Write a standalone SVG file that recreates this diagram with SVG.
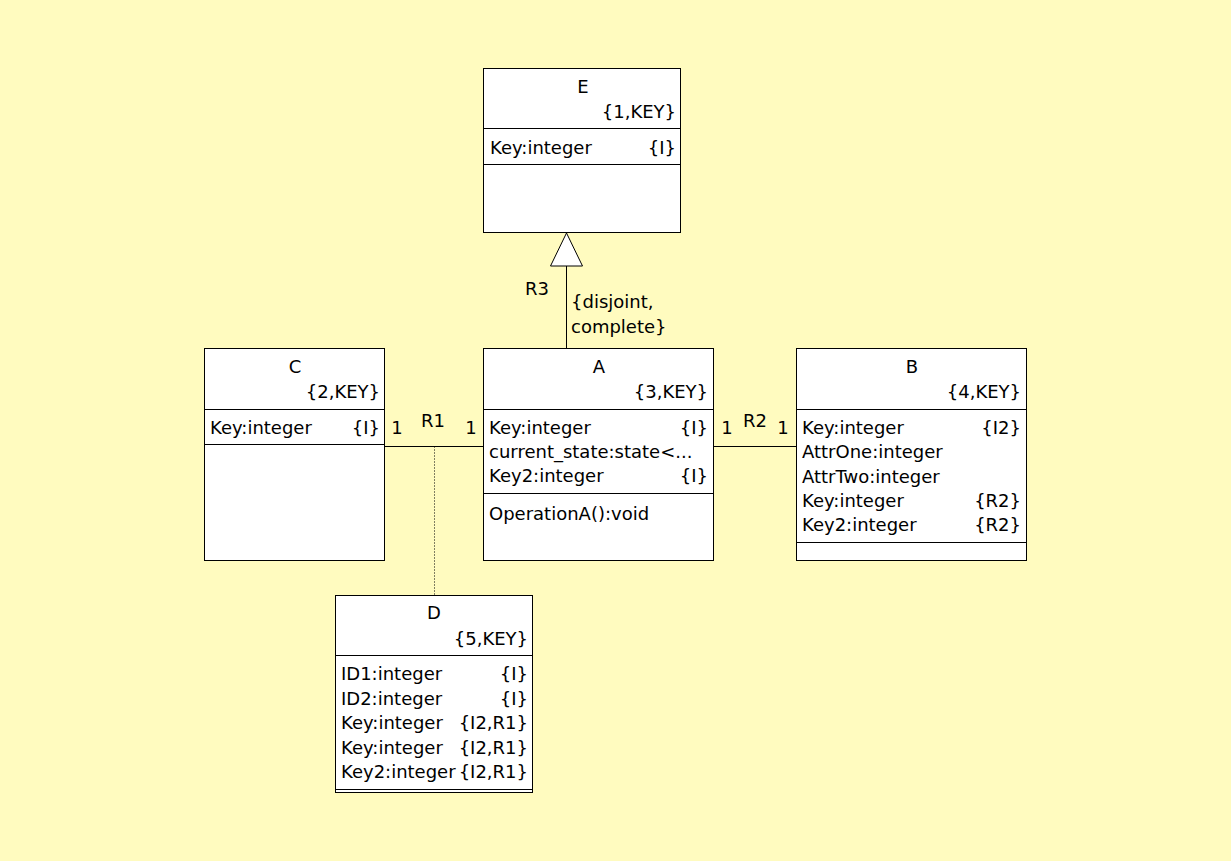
<svg xmlns="http://www.w3.org/2000/svg" width="1231" height="861" viewBox="0 0 1231 861">
<style>
text{font-family:"DejaVu Sans","Liberation Sans",sans-serif;font-size:18px;fill:#000}
.box{fill:#fff;stroke:#000;stroke-width:1}
.ln{stroke:#000;stroke-width:1;fill:none}
.m{text-anchor:middle}
.r{text-anchor:end}
</style>
<rect width="1231" height="861" fill="#FFFBBF"/>
<g id="connectors">
<line class="ln" x1="566.5" y1="266" x2="566.5" y2="348"/>
<polygon points="566.5,233 550.5,266 582.5,266" fill="#fff" stroke="#000"/>
<text x="537" y="295" class="m">R3</text>
<text x="571" y="308">{disjoint,</text>
<text x="571" y="333">complete}</text>
<line class="ln" x1="384" y1="446.5" x2="484" y2="446.5"/>
<line class="ln" x1="434.5" y1="446.5" x2="434.5" y2="595" stroke-dasharray="1,2"/>
<text x="397" y="434" class="m">1</text>
<text x="433" y="427" class="m">R1</text>
<text x="471" y="434" class="m">1</text>
<line class="ln" x1="713" y1="446.5" x2="797" y2="446.5"/>
<text x="727" y="434" class="m">1</text>
<text x="755" y="427" class="m">R2</text>
<text x="783" y="434" class="m">1</text>
</g>
<g id="E">
<rect class="box" x="483.5" y="68.5" width="197" height="164"/>
<line class="ln" x1="483.5" y1="128.5" x2="680.5" y2="128.5"/>
<line class="ln" x1="483.5" y1="164.5" x2="680.5" y2="164.5"/>
<text x="583" y="93" class="m">E</text>
<text x="676" y="118" class="r">{1,KEY}</text>
<text x="490" y="154">Key:integer</text>
<text x="676" y="154" class="r">{I}</text>
</g>
<g id="C">
<rect class="box" x="204.5" y="348.5" width="180" height="212"/>
<line class="ln" x1="204.5" y1="409.5" x2="384.5" y2="409.5"/>
<line class="ln" x1="204.5" y1="444.5" x2="384.5" y2="444.5"/>
<text x="295" y="373" class="m">C</text>
<text x="380" y="398" class="r">{2,KEY}</text>
<text x="210" y="434">Key:integer</text>
<text x="380" y="434" class="r">{I}</text>
</g>
<g id="A">
<rect class="box" x="483.5" y="348.5" width="230" height="212"/>
<line class="ln" x1="483.5" y1="409.5" x2="713.5" y2="409.5"/>
<line class="ln" x1="483.5" y1="493.5" x2="713.5" y2="493.5"/>
<text x="599" y="373" class="m">A</text>
<text x="708" y="398" class="r">{3,KEY}</text>
<text x="489" y="434">Key:integer</text>
<text x="708" y="434" class="r">{I}</text>
<text x="489" y="458">current_state:state&lt;...</text>
<text x="489" y="482">Key2:integer</text>
<text x="708" y="482" class="r">{I}</text>
<text x="489" y="520">OperationA():void</text>
</g>
<g id="B">
<rect class="box" x="796.5" y="348.5" width="230" height="212"/>
<line class="ln" x1="796.5" y1="409.5" x2="1026.5" y2="409.5"/>
<line class="ln" x1="796.5" y1="542.5" x2="1026.5" y2="542.5"/>
<text x="912" y="373" class="m">B</text>
<text x="1021" y="398" class="r">{4,KEY}</text>
<text x="802" y="434">Key:integer</text>
<text x="1021" y="434" class="r">{I2}</text>
<text x="802" y="458">AttrOne:integer</text>
<text x="802" y="483">AttrTwo:integer</text>
<text x="802" y="507">Key:integer</text>
<text x="1021" y="507" class="r">{R2}</text>
<text x="802" y="531">Key2:integer</text>
<text x="1021" y="531" class="r">{R2}</text>
</g>
<g id="D">
<rect class="box" x="335.5" y="595.5" width="197" height="197"/>
<line class="ln" x1="335.5" y1="655.5" x2="532.5" y2="655.5"/>
<line class="ln" x1="335.5" y1="789.5" x2="532.5" y2="789.5"/>
<text x="434" y="619" class="m">D</text>
<text x="528" y="645" class="r">{5,KEY}</text>
<text x="341" y="680">ID1:integer</text>
<text x="528" y="680" class="r">{I}</text>
<text x="341" y="705">ID2:integer</text>
<text x="528" y="705" class="r">{I}</text>
<text x="341" y="729">Key:integer</text>
<text x="528" y="729" class="r">{I2,R1}</text>
<text x="341" y="754">Key:integer</text>
<text x="528" y="754" class="r">{I2,R1}</text>
<text x="341" y="778">Key2:integer</text>
<text x="528" y="778" class="r">{I2,R1}</text>
</g>
</svg>
